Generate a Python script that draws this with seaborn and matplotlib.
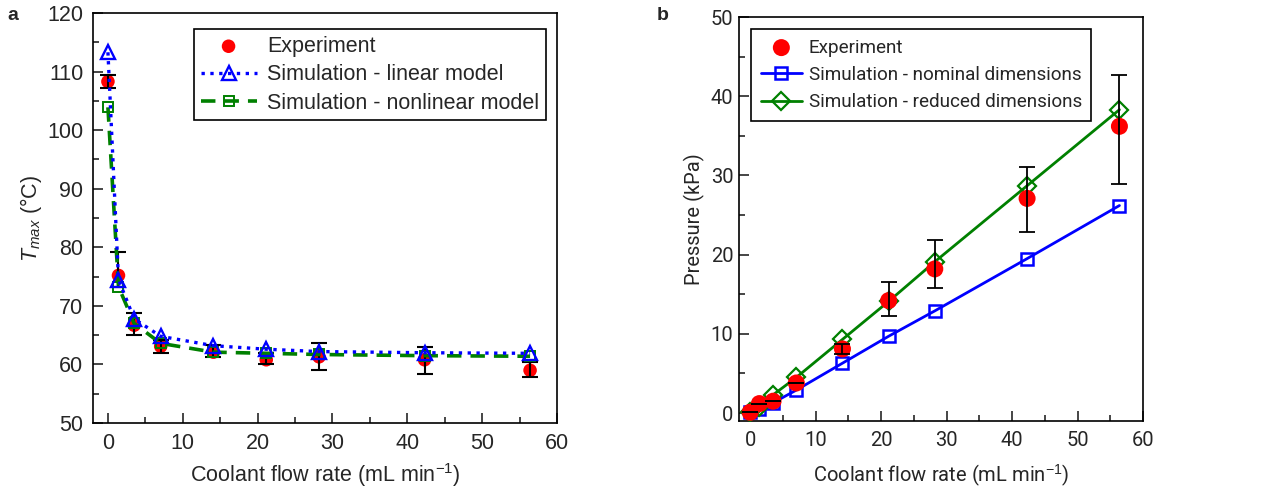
import numpy as np
import pandas as pd
import matplotlib
matplotlib.use("Agg")
import matplotlib.pyplot as plt
from matplotlib.ticker import MultipleLocator
import seaborn as sns

# ---- data ----
flow = [0.0, 1.41, 3.5, 7.05, 14.1, 21.15, 28.2, 42.3, 56.4]

# panel a: maximum temperature (degC)
t_exp = [108.3, 75.2, 66.7, 63.1, 62.1, 60.8, 61.3, 60.8, 59.0]
t_err_lo = [1.1, 1.9, 1.7, 1.1, 0.9, 0.7, 2.3, 2.5, 1.1]
t_err_hi = [1.2, 4.0, 2.0, 1.1, 1.2, 1.1, 2.3, 2.2, 1.4]
t_lin = [113.3, 74.5, 67.8, 64.8, 63.2, 62.6, 62.2, 62.0, 61.9]
t_nonlin = [103.9, 73.3, 67.0, 63.6, 62.1, 61.9, 61.7, 61.5, 61.4]

# panel b: pressure (kPa)
p_exp = [0.1, 1.2, 1.5, 3.8, 8.1, 14.2, 18.2, 27.1, 36.2]
p_err_lo = [0.0, 0.0, 0.0, 0.0, 0.6, 2.0, 2.4, 4.2, 7.3]
p_err_hi = [0.0, 0.0, 0.0, 0.0, 0.6, 2.3, 3.6, 4.0, 6.5]
p_nominal = [0.2, 0.5, 1.3, 2.9, 6.3, 9.7, 12.9, 19.5, 26.2]
p_reduced = [0.1, 0.8, 2.3, 4.5, 9.3, 14.1, 19.1, 28.7, 38.3]

sns.set_style("ticks")
plt.rcParams['font.family'] = ['Liberation Sans', 'DejaVu Sans']
plt.rcParams['mathtext.fontset'] = 'custom'
plt.rcParams['mathtext.rm'] = 'Liberation Sans'
plt.rcParams['mathtext.it'] = 'Liberation Sans:italic'
plt.rcParams['xtick.direction'] = 'in'
plt.rcParams['ytick.direction'] = 'in'
plt.rcParams['font.size'] = 15

FS = 15.5
FS_B = 14.5
RED = '#ff0000'
BLUE = '#0000ff'
GREEN = '#008000'

# panel b text is narrower in the original, Roboto is the closest narrow face
narrow = ['Roboto', 'Liberation Sans', 'DejaVu Sans']

fig = plt.figure(figsize=(12.7, 4.9), dpi=100)
ax1 = fig.add_axes([0.0732, 0.1367, 0.3654, 0.8367])
ax2 = fig.add_axes([0.5819, 0.1408, 0.3181, 0.8245])


def style_axis(ax, size, pad=7):
    for sp in ax.spines.values():
        sp.set_visible(True)
        sp.set_linewidth(1.2)
        sp.set_color('black')
    ax.tick_params(which='both', direction='in', top=False, right=False,
                   width=1.2, labelsize=size, pad=pad)
    ax.tick_params(which='major', length=7)
    ax.tick_params(which='minor', length=4)
    ax.xaxis.set_major_locator(MultipleLocator(10))
    ax.xaxis.set_minor_locator(MultipleLocator(5))
    ax.yaxis.set_major_locator(MultipleLocator(10))
    ax.yaxis.set_minor_locator(MultipleLocator(5))


# ============================================
# panel a
# ============================================
sns.scatterplot(x=flow, y=t_exp, ax=ax1, color=RED, s=95, edgecolor='none',
                label='Experiment', zorder=2)
ax1.errorbar(flow, t_exp, yerr=[t_err_lo, t_err_hi], fmt='none',
             ecolor='black', elinewidth=1.5, capsize=6, capthick=1.5, zorder=3)
sns.lineplot(x=flow, y=t_lin, ax=ax1, color=BLUE, linestyle=':', linewidth=2.4,
             marker='^', markersize=10, markerfacecolor='none',
             markeredgecolor=BLUE, markeredgewidth=1.7,
             label='Simulation - linear model', zorder=5)
sns.lineplot(x=flow, y=t_nonlin, ax=ax1, color=GREEN, linewidth=2.6,
             dashes=(4, 2.5), marker='s', markersize=7, markerfacecolor='none',
             markeredgecolor=GREEN, markeredgewidth=1.4,
             label='Simulation - nonlinear model', zorder=4)

style_axis(ax1, FS)
ax1.set_xlim(-2, 60)
ax1.set_ylim(50, 120)
ax1.set_xlabel('Coolant flow rate (mL min$^{-1}$)', fontsize=FS, labelpad=5)
ax1.set_ylabel('$T_{max}$ (°C)', fontsize=FS, labelpad=2)
leg = ax1.legend(loc='upper right', bbox_to_anchor=(0.976, 0.960), fontsize=FS,
                 frameon=True, fancybox=False, edgecolor='black', framealpha=1,
                 borderaxespad=0, handlelength=2.6, labelspacing=0.34,
                 borderpad=0.3, handletextpad=0.5)
leg.get_frame().set_linewidth(1.2)

# ============================================
# panel b
# ============================================
sns.lineplot(x=flow, y=p_nominal, ax=ax2, color=BLUE, linewidth=2,
             marker='s', markersize=9, markerfacecolor='none',
             markeredgecolor=BLUE, markeredgewidth=1.8,
             label='Simulation - nominal dimensions', zorder=3)
sns.lineplot(x=flow, y=p_reduced, ax=ax2, color=GREEN, linewidth=2,
             marker='D', markersize=9, markerfacecolor='none',
             markeredgecolor=GREEN, markeredgewidth=1.6,
             label='Simulation - reduced dimensions', zorder=3)
sns.scatterplot(x=flow, y=p_exp, ax=ax2, color=RED, s=150, edgecolor='none',
                label='Experiment', zorder=4)
ax2.errorbar(flow, p_exp, yerr=[p_err_lo, p_err_hi], fmt='none',
             ecolor='black', elinewidth=1.3, capsize=6, capthick=1.3, zorder=5)

style_axis(ax2, FS_B, pad=4)
ax2.tick_params(axis='x', pad=7)
for t in ax2.get_xticklabels() + ax2.get_yticklabels():
    t.set_family(narrow)
ax2.set_xlim(-1.7, 60)
ax2.set_ylim(-1, 50)
ax2.set_xlabel('Coolant flow rate (mL min$^{-1}$)', fontsize=FS_B, labelpad=9,
               family=narrow)
ax2.set_ylabel('Pressure (kPa)', fontsize=FS_B, labelpad=4, family=narrow)
h, l = ax2.get_legend_handles_labels()
order = [l.index('Experiment'), l.index('Simulation - nominal dimensions'),
         l.index('Simulation - reduced dimensions')]
leg2 = ax2.legend([h[i] for i in order], [l[i] for i in order],
                  loc='upper left', bbox_to_anchor=(0.03, 0.97),
                  prop={'family': narrow, 'size': 13.6},
                  frameon=True, fancybox=False, edgecolor='black', framealpha=1,
                  borderaxespad=0, handlelength=2.2, labelspacing=0.5,
                  borderpad=0.5, handletextpad=0.35)
leg2.get_frame().set_linewidth(1.2)

fig.text(0.006, 0.985, 'a', fontsize=14, fontweight='bold', va='top')
fig.text(0.517, 0.985, 'b', fontsize=14, fontweight='bold', va='top')

fig.savefig('out.png', dpi=100)
